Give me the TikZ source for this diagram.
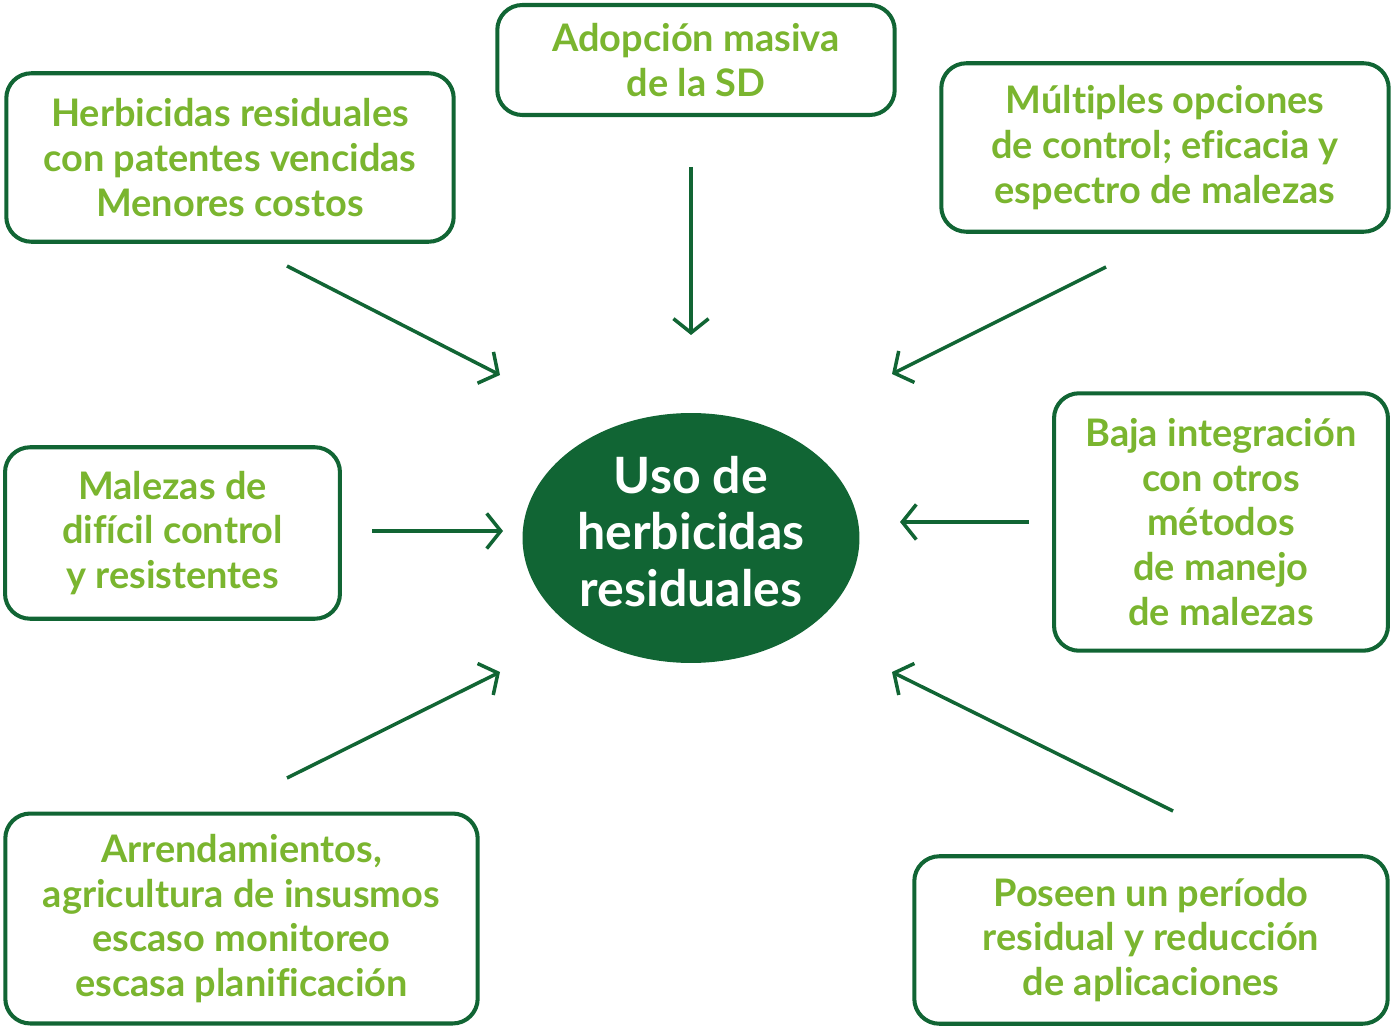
\documentclass[tikz,border=0pt]{standalone}
\usepackage{fontspec}
\setmainfont{Lato}[Ligatures=NoCommon]
\usetikzlibrary{shapes.geometric,arrows.meta}

\definecolor{darkgreen}{HTML}{116534}
\definecolor{lightgreen}{HTML}{7AB52F}

\tikzset{
  causa/.style={draw=darkgreen, line width=2.3pt, rounded corners=0.5cm,
    text=lightgreen, align=center, font=\bfseries\fontsize{21.6}{25.5}\selectfont,
    inner sep=0pt},
  flecha/.style={darkgreen, line width=2pt, -{Straight Barb[length=8pt,width=20pt,line width=2pt]}},
}

\begin{document}
\begin{tikzpicture}[x=0.02cm, y=-0.02cm]
\useasboundingbox (0,0) rectangle (1394,1027);

\node[ellipse, fill=darkgreen, minimum width=6.74cm, minimum height=5cm] (uso) at (691,538) {};
\node[text=white, align=center, font=\bfseries\fontsize{28.5}{32}\selectfont] (usotexto)
  at ([yshift=0.13cm]uso.center) {Uso de\\herbicidas\\residuales};

\node[causa, minimum width=8.95cm, minimum height=3.37cm] (herb) at (230,157.5)
  {Herbicidas residuales\\con patentes vencidas\\Menores costos};
\node[causa, minimum width=7.95cm, minimum height=2.2cm] (adop) at (696,60)
  {Adopción masiva\\de la SD};
\node[causa, minimum width=8.95cm, minimum height=3.37cm] (mult) at (1165,147.5)
  {Múltiples opciones\\de control; eficacia y\\espectro de malezas};
\node[causa, minimum width=6.7cm, minimum height=3.43cm] (male) at (172.5,533)
  {Malezas de\\difícil control\\y resistentes};
\node[causa, minimum width=6.68cm, minimum height=5.15cm] (baja) at (1221,522)
  {Baja integración\\con otros\\métodos\\de manejo\\de malezas};
\node[causa, minimum width=9.45cm, minimum height=4.2cm] (arre) at (241.5,918.5)
  {Arrendamientos,\\agricultura de insusmos\\escaso monitoreo\\escasa planificación};
\node[causa, minimum width=9.47cm, minimum height=3.35cm] (pose) at (1151,940)
  {Poseen un período\\residual y reducción\\de aplicaciones};

% arrow ends
\coordinate (a1) at (287,266);   \coordinate (b1) at (500,375);
\coordinate (a2) at (691,167);   \coordinate (b2) at (691,335);
\coordinate (a3) at (1106,267);  \coordinate (b3) at (892,374);
\coordinate (a4) at (372,531);   \coordinate (b4) at (503,531);
\coordinate (a5) at (1029,522);  \coordinate (b5) at (900,522);
\coordinate (a6) at (287,778);   \coordinate (b6) at (500,672);
\coordinate (a7) at (1173,811);  \coordinate (b7) at (892,672);

\foreach \i in {1,...,7}
  \draw[flecha] (a\i) -- (b\i);

\end{tikzpicture}
\end{document}
